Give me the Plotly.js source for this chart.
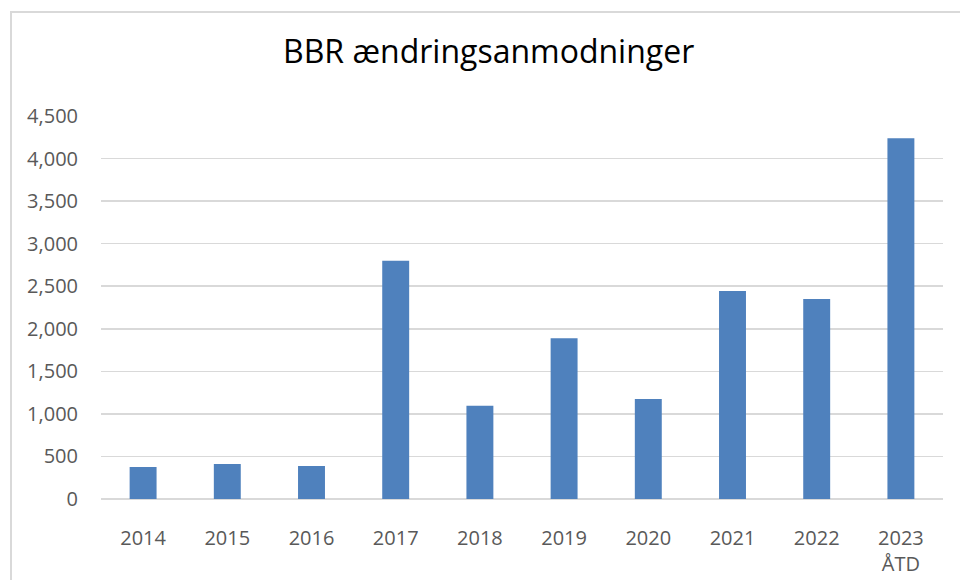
<!DOCTYPE html>
<html>
<head>
<meta charset="utf-8">
<script src="https://cdn.plot.ly/plotly-3.0.1.min.js"></script>
<style>
  html, body { margin: 0; padding: 0; background: #fff; overflow: hidden; }
  #wrap { position: relative; width: 960px; height: 580px; }
  #chart { width: 960px; height: 580px; }
  #frame { position: absolute; left: 10px; top: 11px; width: 960px; height: 600px;
           border-left: 2px solid #d9d9d9; border-top: 2px solid #d9d9d9; pointer-events: none; }
</style>
</head>
<body>
<div id="wrap">
  <div id="chart"></div>
  <div id="frame"></div>
</div>
<script>
const categories = ["2014", "2015", "2016", "2017", "2018", "2019", "2020", "2021", "2022", "2023 ÅTD"];
const tickLabels = ["2014", "2015", "2016", "2017", "2018", "2019", "2020", "2021", "2022", "2023<br>ÅTD"];
const requests = [376, 411, 388, 2800, 1095, 1890, 1175, 2445, 2350, 4240];
const yTicks = [0, 500, 1000, 1500, 2000, 2500, 3000, 3500, 4000, 4500];

const font = "Open Sans, Noto Sans, sans-serif";

const trace = {
  type: "bar",
  x: categories,
  y: requests,
  marker: { color: "#4f81bd" },
  hoverinfo: "x+y"
};

const layout = {
  width: 960,
  height: 580,
  paper_bgcolor: "#ffffff",
  plot_bgcolor: "#ffffff",
  margin: { l: 101, r: 17, t: 116, b: 81, pad: 0 },
  bargap: 0.68,
  showlegend: false,
  title: {
    text: "BBR ændringsanmodninger",
    font: { family: font, size: 32, color: "#000000" },
    x: 0.509, xanchor: "center",
    y: 0.91, yanchor: "middle"
  },
  xaxis: {
    type: "category",
    tickmode: "array",
    tickvals: categories,
    ticktext: tickLabels,
    showgrid: false,
    showline: false,
    zeroline: false,
    ticks: "",
    ticklabelstandoff: 25,
    tickfont: { family: font, size: 20, color: "#595959" }
  },
  yaxis: {
    range: [0, 4500],
    tickmode: "array",
    tickvals: yTicks,
    tickformat: ",d",
    showgrid: true,
    gridcolor: "#d9d9d9",
    gridwidth: 1.5,
    zeroline: true,
    zerolinecolor: "#d9d9d9",
    zerolinewidth: 2,
    showline: false,
    ticks: "",
    ticklabelstandoff: 22,
    tickfont: { family: font, size: 20, color: "#595959" }
  }
};

Plotly.newPlot("chart", [trace], layout, { displayModeBar: false, staticPlot: true });
</script>
</body>
</html>
